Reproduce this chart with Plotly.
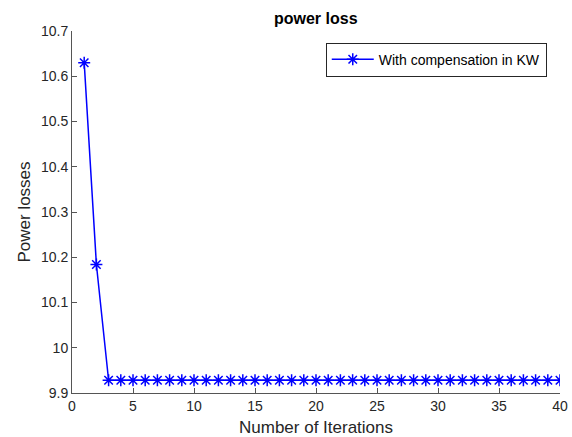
import plotly.graph_objects as go

iterations = list(range(1, 41))
power_loss = [10.63, 10.184] + [9.928] * 38

fig = go.Figure()
fig.add_trace(go.Scatter(
    x=iterations, y=power_loss, mode="lines+markers",
    name="With compensation in KW",
    line=dict(color="#0000FF", width=1.5),
    marker=dict(symbol="asterisk-open", size=10, color="#0000FF",
                line=dict(color="#0000FF", width=1.5)),
))

FONT = "Liberation Sans, Arial"
axis_common = dict(
    showline=True, linecolor="#555555", linewidth=1,
    ticks="inside", ticklen=5, tickcolor="#555555",
    showgrid=False, zeroline=False, mirror=False, automargin=False,
    tickfont=dict(family=FONT, size=14, color="#262626"),
)

fig.update_layout(
    width=572, height=437,
    plot_bgcolor="white", paper_bgcolor="white",
    margin=dict(l=72, r=12, t=31, b=44),
    title=dict(text="<b>power loss</b>", x=0.552, xanchor="center", y=0.958, yanchor="middle",
               font=dict(family=FONT, size=16, color="#000")),
    xaxis=dict(range=[0, 40], tickvals=[0, 5, 10, 15, 20, 25, 30, 35, 40],
               title=dict(text="Number of Iterations", standoff=14,
                          font=dict(family=FONT, size=17, color="#262626")),
               **axis_common),
    yaxis=dict(range=[9.9, 10.7], tickvals=[9.9, 10, 10.1, 10.2, 10.3, 10.4, 10.5, 10.6, 10.7],
               ticktext=["9.9", "10", "10.1", "10.2", "10.3", "10.4", "10.5", "10.6", "10.7"],
               title=dict(text="Power losses", standoff=6,
                          font=dict(family=FONT, size=17, color="#262626")),
               **axis_common),
    showlegend=True,
    legend=dict(x=0.52, y=0.968, xanchor="left", yanchor="top", itemwidth=42,
                bordercolor="#262626", borderwidth=1, bgcolor="white",
                font=dict(family=FONT, size=14, color="#000")),
)

fig.write_html("out.html", config={"displayModeBar": False},
               post_script="document.body.style.margin='0';document.body.style.overflow='hidden';")
